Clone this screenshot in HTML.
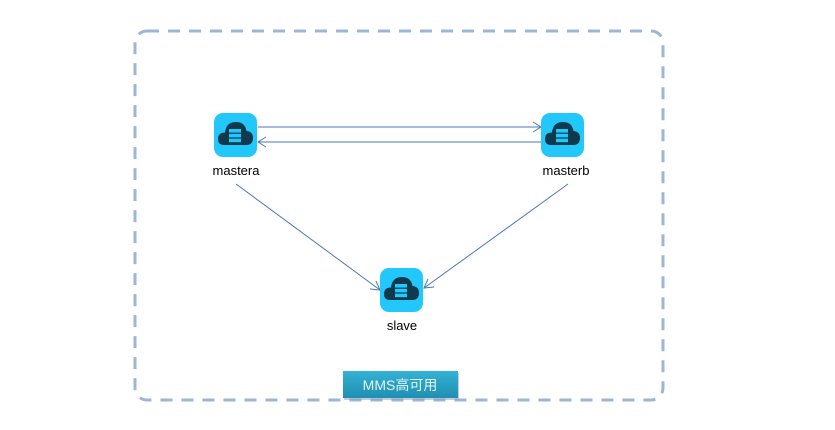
<!DOCTYPE html>
<html><head><meta charset="utf-8"><style>
body{margin:0;background:#fff;width:835px;height:430px;overflow:hidden;font-family:"Liberation Sans","Noto Sans CJK SC",sans-serif}
</style></head><body>
<svg width="835" height="430" xmlns="http://www.w3.org/2000/svg" style="position:absolute;left:0;top:0">
<defs>
<g id="ic">
<rect x="0" y="0" width="43" height="44" rx="9" fill="#22c8fb"/>
<path d="M10 32 Q4 32 4 26 Q4 19.5 11 19.5 Q12 9 22 9 Q31 9 32.5 18 Q39 18.5 39 25 Q39 32 32 32 Z" fill="#0f3a4d"/>
<rect x="15" y="16" width="12" height="3.6" fill="#22c8fb"/>
<rect x="15" y="20.8" width="12" height="3.6" fill="#22c8fb"/>
<rect x="15" y="25.6" width="12" height="3.6" fill="#22c8fb"/>
</g>
<linearGradient id="lg" x1="0" y1="0" x2="0" y2="1"><stop offset="0" stop-color="#34b2d4"/><stop offset="1" stop-color="#1f8fb2"/></linearGradient>
</defs>
<rect x="135" y="31" width="528" height="369" rx="12" fill="none" stroke="#9bb6d6" stroke-width="3" stroke-dasharray="12 9"/>
<g stroke="#4a78b8" stroke-width="1" fill="none">
<line x1="258" y1="127" x2="541" y2="127"/>
<polyline points="533,122 541,127 533,132"/>
<line x1="541" y1="142" x2="258" y2="142"/>
<polyline points="266,137 258,142 266,147"/>
<line x1="236" y1="184" x2="380" y2="290"/>
<polyline points="370,289 380,290 376,281"/>
<line x1="568" y1="184" x2="424" y2="288"/>
<polyline points="428,279 424,288 434,287"/>
</g>
<use href="#ic" x="214" y="113"/>
<use href="#ic" x="541" y="113"/>
<use href="#ic" x="380" y="268"/>
<g font-size="13" fill="#000" text-anchor="middle">
<text x="236" y="175">mastera</text>
<text x="566" y="175">masterb</text>
<text x="402" y="330">slave</text>
</g>
<rect x="344" y="373" width="115" height="27" fill="#8aa0b5" opacity="0.5"/>
<rect x="343" y="371" width="115" height="27" fill="url(#lg)"/>
<text x="400" y="390" font-size="14" fill="#e8f6fb" text-anchor="middle">MMS高可用</text>
</svg>
</body></html>
